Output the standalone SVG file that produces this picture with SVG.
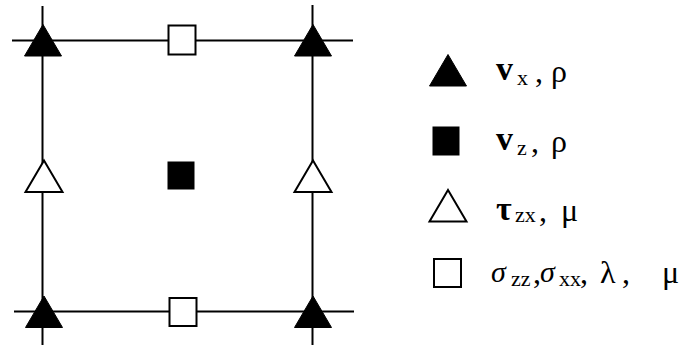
<svg xmlns="http://www.w3.org/2000/svg" width="685" height="348" viewBox="0 0 685 348">
  <style>
    .grid { stroke: #000; stroke-width: 2; fill: none; }
    .solid { fill: #000; stroke: #000; stroke-width: 1; }
    .open { fill: #fff; stroke: #000; stroke-width: 2; }
    .lbl { font-family: "Liberation Serif", "Times New Roman", serif; fill: #000; }
    .main { font-size: 34px; font-weight: bold; }
    .sub { font-size: 22px; }
    .gr { font-size: 32px; }
    .sig { font-size: 30px; font-style: italic; }
  </style>
  <defs>
    <polygon id="tri" points="0,-16 18.5,15.5 -18.5,15.5"/>
  </defs>
  <rect width="685" height="348" fill="#fff"/>

  <!-- cell grid lines -->
  <g id="connectors" class="grid">
    <line x1="12" y1="40.5" x2="353" y2="40.5"/>
    <line x1="14" y1="311.5" x2="354" y2="311.5"/>
    <line x1="42.5" y1="6" x2="42.5" y2="345"/>
    <line x1="312.5" y1="5" x2="312.5" y2="345"/>
  </g>

  <!-- vx, rho nodes at the corners -->
  <g id="vx-top-left"><use href="#tri" x="43" y="40.5" class="solid"/></g>
  <g id="vx-top-right"><use href="#tri" x="313" y="40.5" class="solid"/></g>
  <g id="vx-bottom-left"><use href="#tri" x="44" y="312" class="solid"/></g>
  <g id="vx-bottom-right"><use href="#tri" x="313" y="312" class="solid"/></g>

  <!-- stress nodes on the horizontal edges -->
  <g id="stress-top"><rect x="168.5" y="25.5" width="27" height="29" class="open"/></g>
  <g id="stress-bottom"><rect x="169.5" y="298" width="27" height="28" class="open"/></g>

  <!-- shear nodes on the vertical edges -->
  <g id="shear-left"><use href="#tri" x="44" y="176.5" class="open"/></g>
  <g id="shear-right"><use href="#tri" x="313" y="176.5" class="open"/></g>

  <!-- vz, rho node at the cell centre -->
  <g id="vz-centre"><rect x="168" y="162" width="26" height="27" class="solid"/></g>

  <!-- legend -->
  <g id="legend-vx">
    <use href="#tri" x="448" y="70.5" class="solid"/>
    <text class="lbl" y="80"><tspan class="main" x="496">v</tspan><tspan class="sub" x="517" y="85">x</tspan><tspan class="gr" x="535" y="82">,</tspan><tspan class="gr" x="551" y="82">ρ</tspan></text>
  </g>
  <g id="legend-vz">
    <rect x="433" y="127" width="26" height="28" class="solid"/>
    <text class="lbl" y="150"><tspan class="main" x="496">v</tspan><tspan class="sub" x="517" y="155">z</tspan><tspan class="gr" x="531" y="152">,</tspan><tspan class="gr" x="551" y="152">ρ</tspan></text>
  </g>
  <g id="legend-tau">
    <use href="#tri" x="448" y="206" class="open"/>
    <text class="lbl" y="220"><tspan class="main" x="496">τ</tspan><tspan class="sub" x="515" y="222">zx</tspan><tspan class="gr" x="539" y="221">,</tspan><tspan class="gr" x="561" y="221">μ</tspan></text>
  </g>
  <g id="legend-sigma">
    <rect x="434" y="259" width="27" height="28" class="open"/>
    <text class="lbl" y="282"><tspan class="sig" x="491">σ</tspan><tspan class="sub" x="511" y="286">zz</tspan><tspan class="gr" x="533" y="283">,</tspan><tspan class="sig" x="540" y="282">σ</tspan><tspan class="sub" x="559" y="286">xx</tspan><tspan class="gr" x="580" y="283">,</tspan><tspan class="gr" x="600">λ</tspan><tspan class="gr" x="622">,</tspan><tspan class="gr" x="662">μ</tspan></text>
  </g>
</svg>
